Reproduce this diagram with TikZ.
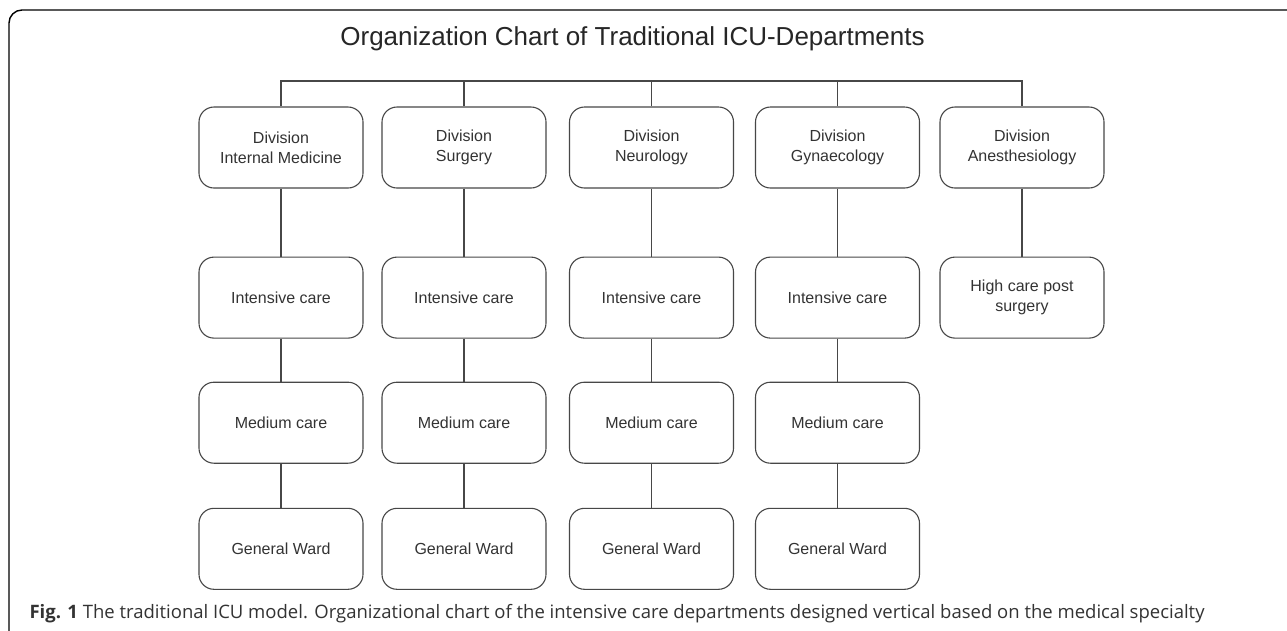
\documentclass[tikz,border=0pt]{standalone}
\usepackage{fontspec}
\setmainfont{Liberation Sans}
\newfontfamily\capfont{Open Sans}
\usetikzlibrary{positioning}

\begin{document}
\begin{tikzpicture}[x=1pt,y=-1pt,
    unit/.style={draw=black!72,line width=1.1pt,rounded corners=15pt,
      minimum width=164pt,minimum height=81pt,align=center,
      text=black!80,font=\fontsize{16}{20}\selectfont},
    link/.style={draw=black!72,line width=1.1pt}]
\useasboundingbox (0,0) rectangle (1287,630);
\clip (0,0) rectangle (1287,630);
\fill[white] (0,0) rectangle (1287,630);
\draw[line width=1.4pt,rounded corners=13pt] (9,10) rectangle (1300,645);

\node (title) [anchor=base,text=black!85,font=\fontsize{26}{30}\selectfont]
    at (632.5,45) {Organization Chart of Traditional ICU-Departments};

\node (im) [unit] at (281,147.5) {Division\\Internal Medicine};
\node (su) [unit] at (464,147.5) {Division\\Surgery};
\node (ne) [unit] at (651.5,147.5) {Division\\Neurology};
\node (gy) [unit] at (837.5,147.5) {Division\\Gynaecology};
\node (an) [unit] at (1022,147.5) {Division\\Anesthesiology};

\foreach \d in {im,su,ne,gy} {
  \node (\d-ic) [unit,below=68pt of \d] {Intensive care};
  \node (\d-mc) [unit,below=43pt of \d-ic] {Medium care};
  \node (\d-gw) [unit,below=44pt of \d-mc] {General Ward};
  \draw[link] (\d.south) -- (\d-ic.north);
  \draw[link] (\d-ic.south) -- (\d-mc.north);
  \draw[link] (\d-mc.south) -- (\d-gw.north);
}
\node (an-hc) [unit,below=68pt of an] {High care post\\surgery};
\draw[link] (an.south) -- (an-hc.north);

\coordinate (bus) at (0,81);
\draw[link] (im.north) -- (im.north |- bus) -- (an.north |- bus) -- (an.north);
\foreach \d in {su,ne,gy}
  \draw[link] (\d.north) -- (\d.north |- bus);

\node (caption) [anchor=base west,text=black!80,font=\capfont\fontsize{18.5}{22}\selectfont]
    at (26,618) {\textbf{Fig. 1} The traditional ICU model. Organizational chart of the intensive care departments designed vertical based on the medical specialty};
\end{tikzpicture}
\end{document}
